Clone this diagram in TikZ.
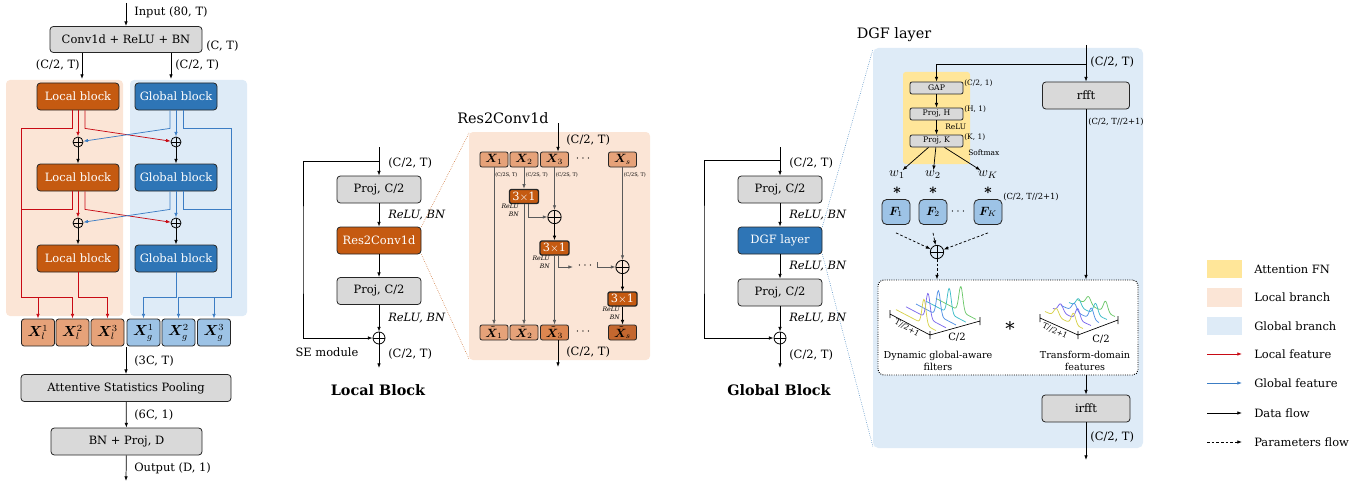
\documentclass[tikz,border=0pt]{standalone}
\usepackage{fontspec}
\setmainfont{DejaVu Serif}
\usepackage{bm}
\usetikzlibrary{arrows.meta,positioning,calc}

\definecolor{locbg}{HTML}{FBE5D6}
\definecolor{globbg}{HTML}{DEEBF7}
\definecolor{attnbg}{HTML}{FFE699}
\definecolor{boxgray}{HTML}{D9D9D9}
\definecolor{locdark}{HTML}{C55A11}
\definecolor{globdark}{HTML}{2E75B6}
\definecolor{loclight}{HTML}{E6A279}
\definecolor{locmid}{HTML}{DC8650}
\definecolor{locdeep}{HTML}{C4672F}
\definecolor{globlight}{HTML}{9DC3E6}
\definecolor{featred}{HTML}{C80A14}
\definecolor{featblue}{HTML}{3C7DC4}
\definecolor{linegray}{HTML}{5A5A5A}
\definecolor{wfa}{HTML}{7B68EE}
\definecolor{wfb}{HTML}{4F8FE6}
\definecolor{wfc}{HTML}{3CBCC8}
\definecolor{wfd}{HTML}{6CC86A}
\definecolor{wfe}{HTML}{D8D24A}

\tikzset{
  wh/.style 2 args={minimum width={#1*0.75pt}, minimum height={#2*0.75pt}},
  box/.style={draw=black!85, line width=0.6pt, rounded corners=2.5pt, inner sep=1pt, font=\fontsize{8.6}{9}\selectfont},
  graybox/.style={box, fill=boxgray},
  locblk/.style={box, fill=locdark, text=white},
  globblk/.style={box, fill=globdark, text=white},
  xbox/.style={box, rounded corners=2pt, wh={33}{27}, inner sep=0pt, font=\fontsize{10.5}{12}\selectfont},
  rxbox/.style={box, rounded corners=1.5pt, wh={28}{15}, inner sep=0pt, font=\fontsize{8.6}{9}\selectfont},
  kbox/.style={box, line width=1pt, rounded corners=1.5pt, fill=locdark, text=white, wh={29}{14}, inner sep=0pt, font=\fontsize{8.5}{9}\selectfont},
  sbox/.style={box, fill=boxgray, wh={53}{12}, inner sep=0pt, rounded corners=1.5pt, font=\fontsize{5.8}{6}\selectfont},
  fbox/.style={box, fill=globlight, rounded corners=3.5pt, wh={28}{25}, inner sep=0pt, font=\fontsize{9}{10}\selectfont},
  sumnode/.style={circle, draw, line width=0.6pt, inner sep=0pt, minimum size=#1,
    path picture={\draw[line width=0.6pt] (path picture bounding box.north) -- (path picture bounding box.south)
      (path picture bounding box.west) -- (path picture bounding box.east);}},
  sumnode/.default=7.5pt,
  arr/.style={-{Latex[length=3.5pt,width=2.6pt]}, line width=0.55pt},
  redarr/.style={arr, featred},
  bluearr/.style={arr, featblue},
  grayarr/.style={arr, linegray},
  dasharr/.style={arr, dash pattern=on 2pt off 1.5pt},
  lbl/.style={anchor=west, inner sep=0pt, font=\fontsize{8.6}{9}\selectfont},
  itlbl/.style={lbl, font=\fontsize{8.6}{9}\selectfont\itshape},
  tiny/.style={lbl, font=\fontsize{5.6}{6}\selectfont},
  title/.style={inner sep=0pt, font=\fontsize{10.8}{12}\selectfont},
  btitle/.style={inner sep=0pt, font=\fontsize{10.8}{12}\selectfont\bfseries},
}

\begin{document}
\begin{tikzpicture}[x=0.75pt, y=-0.75pt]
  \useasboundingbox (0,0) rectangle (1370,485);

  % ---------- backbone ----------
  \fill[locbg, rounded corners=3pt] (6,80) rectangle (123,316);
  \fill[globbg, rounded corners=3pt] (130,80) rectangle (247,316);

  \coordinate (inp) at (126,3);
  \node[graybox, wh={152}{26}] (conv) at (126,39.5) {Conv1d + ReLU + BN};
  \draw[arr] (inp) -- (conv);
  \node[lbl] at (134,12) {Input (80, T)};
  \node[lbl] at (206,46) {(C, T)};
  \coordinate (locin) at (82,79);
  \coordinate (globin) at (171,79);
  \draw[arr] (conv.south -| locin) -- (locin);
  \draw[arr] (conv.south -| globin) -- (globin);
  \node[lbl, anchor=east] at (80,65) {(C/2, T)};
  \node[lbl] at (175,65) {(C/2, T)};

  \foreach \i/\y in {1/96.5, 2/177.5, 3/258.5} {
    \node[locblk, wh={82}{27}] (lb\i) at (78,\y) {Local block};
    \node[globblk, wh={82}{27}] (gb\i) at (176,\y) {Global block};
  }
  \foreach \i/\y in {1/142, 2/223} {
    \node[sumnode] (lp\i) at (78,\y) {};
    \node[sumnode] (gp\i) at (176,\y) {};
  }
  % crossing features
  \foreach \i/\j in {1/2, 2/3} {
    \draw[redarr] (lb\i) -- (lp\i);
    \draw[redarr] ([xshift=5.25pt]lb\i.south) -- ++(0,18) -- (gp\i);
    \draw[bluearr] (gb\i) -- (gp\i);
    \draw[bluearr] ([xshift=-4.5pt]gb\i.south) -- ++(0,18) -- (lp\i);
    \draw[arr] (lp\i) -- (lb\j);
    \draw[arr] (gp\i) -- (gb\j);
  }

  \foreach \n/\x in {1/38, 2/72.5, 3/107.5}
    \node[xbox, fill=loclight] (xl\n) at (\x,332.5) {$\bm X_l^{\n}$};
  \foreach \n/\x in {1/143.5, 2/178.5, 3/214}
    \node[xbox, fill=globlight] (xg\n) at (\x,332.5) {$\bm X_g^{\n}$};

  % outputs of the blocks
  \draw[redarr] ([xshift=-4.5pt]lb1.south) -- ++(0,18) -| (21,297) -| (xl1);
  \draw[redarr] ([xshift=-4.5pt]lb2.south) -- ++(0,18) -| (21,297) -| (xl2);
  \draw[redarr] (lb3) -- (78,297) -| (xl3);
  \draw[bluearr] ([xshift=5.25pt]gb1.south) -- ++(0,18) -| (231,297) -| (xg3);
  \draw[bluearr] ([xshift=5.25pt]gb2.south) -- ++(0,18) -| (231,297) -| (xg2);
  \draw[bluearr] (gb3) -- (176,297) -| (xg1);

  \coordinate (cat) at (126,347);
  \node[graybox, wh={210}{27}] (asp) at (126,388) {Attentive Statistics Pooling};
  \node[graybox, wh={151}{27}] (bnproj) at (126.5,441.5) {BN + Proj, D};
  \coordinate (outp) at (126,481);
  \draw[arr] (cat) -- (asp);
  \draw[arr] (asp) -- (bnproj);
  \draw[arr] (bnproj) -- (outp);
  \node[lbl] at (134,361) {(3C, T)};
  \node[lbl] at (134,415) {(6C, 1)};
  \node[lbl] at (134,468) {Output (D, 1)};

  % ---------- local block ----------
  \coordinate (lbin) at (379,147);
  \coordinate (lskip) at (379,161);
  \node[graybox, wh={84}{27}] (lpj1) at (379,189.5) {Proj, C/2};
  \node[locblk, wh={84}{27}] (res2) at (379,240.5) {Res2Conv1d};
  \node[graybox, wh={84}{27}] (lpj2) at (379,291) {Proj, C/2};
  \node[sumnode=9pt] (lsum) at (379,338) {};
  \coordinate (lbout) at (379,368);
  \draw[arr] (lbin) -- (lpj1);
  \draw[arr] (lpj1) -- (res2);
  \draw[arr] (res2) -- (lpj2);
  \draw[arr] (lpj2) -- (lsum);
  \draw[arr] (lsum) -- (lbout);
  \draw[arr] (lskip) -| (303,250) |- (lsum);
  \node[lbl] at (388,163) {(C/2, T)};
  \node[itlbl] at (388,215) {ReLU, BN};
  \node[itlbl] at (388,318) {ReLU, BN};
  \node[lbl] at (388,354) {(C/2, T)};
  \node[lbl, anchor=center] at (327,352) {SE module};
  \node[btitle] at (378,390) {Local Block};

  % ---------- Res2Conv1d ----------
  \fill[locbg, rounded corners=3pt] (469,132) rectangle (650,360);
  \draw[locdark, densely dotted] (res2.north east) -- (469,133);
  \draw[locdark, densely dotted] (res2.south east) -- (469,359);
  \node[title] at (503,118) {Res2Conv1d};

  \foreach \n/\x in {1/494, 2/524, 3/554.5}
    \node[rxbox, fill=loclight] (rx\n) at (\x,159.5) {$\bm X_{\n}$};
  \node[rxbox, fill=loclight] (rxs) at (622.5,159.5) {$\bm X_{s}$};
  \node[lbl, anchor=center] at (583,159) {$\cdots$};
  \node[rxbox, fill=loclight] (rt1) at (494,332.5) {$\tilde{\bm X}_{1}$};
  \node[rxbox, fill=loclight] (rt2) at (524,332.5) {$\tilde{\bm X}_{2}$};
  \node[rxbox, fill=locmid] (rt3) at (554.5,332.5) {$\tilde{\bm X}_{3}$};
  \node[rxbox, fill=locdeep] (rts) at (622.5,332.5) {$\tilde{\bm X}_{s}$};
  \node[lbl, anchor=center] at (583,332) {$\cdots$};

  \coordinate (rin) at (558,123);
  \draw[arr] (rin) -- (rin |- rx3.north);
  \node[lbl] at (566,140) {(C/2, T)};
  \coordinate (rout) at (558,367);
  \draw[arr] (rt3.south -| rout) -- (rout);
  \node[lbl] at (566,352) {(C/2, T)};

  \foreach \x in {495, 525.5, 555.5, 623.5}
    \node[lbl, font=\fontsize{3.7}{4}\selectfont] at (\x,175) {(C/2S, T)};

  \node[kbox] (k1) at (524,196.5) {3$\times$1};
  \node[sumnode=10pt] (rp1) at (554.5,217) {};
  \node[kbox] (k2) at (554.5,248) {3$\times$1};
  \node[sumnode=10pt] (rp2) at (622.5,267) {};
  \node[kbox] (k3) at (622.5,299) {3$\times$1};
  \coordinate (dl) at (573,267);
  \coordinate (dr) at (597,262);
  \node[lbl, anchor=center] at (585,266) {$\cdots$};

  \draw[grayarr] (rx1) -- (rt1);
  \draw[grayarr] (rx2) -- (k1);
  \draw[grayarr] (k1) -- (rt2);
  \draw[grayarr] ([xshift=3pt]k1.south) |- (rp1);
  \draw[grayarr] (rx3) -- (rp1);
  \draw[arr] (rp1) -- (k2);
  \draw[grayarr] (k2) -- (rt3);
  \draw[grayarr] ([xshift=3pt]k2.south) |- (dl);
  \draw[grayarr] (dr) |- (rp2);
  \draw[grayarr] (rxs) -- (rp2);
  \draw[arr] (rp2) -- (k3);
  \draw[arr] (k3) -- (rts);
  \foreach \x/\y in {519/204, 550/256, 620/307}
    \node[anchor=north east, inner sep=0pt, align=right, font=\fontsize{4.6}{5.6}\selectfont\itshape] at (\x,\y) {ReLU\\BN};

  % ---------- global block ----------
  \coordinate (gbin) at (780,147);
  \coordinate (gskip) at (780,160);
  \node[graybox, wh={84}{27}] (gpj1) at (780,189.5) {Proj, C/2};
  \node[globblk, wh={84}{27}] (dgf) at (780,240.5) {DGF layer};
  \node[graybox, wh={84}{27}] (gpj2) at (780,292.5) {Proj, C/2};
  \node[sumnode=9pt] (gsum) at (780,338) {};
  \coordinate (gbout) at (780,368);
  \draw[arr] (gbin) -- (gpj1);
  \draw[arr] (gpj1) -- (dgf);
  \draw[arr] (dgf) -- (gpj2);
  \draw[arr] (gpj2) -- (gsum);
  \draw[arr] (gsum) -- (gbout);
  \draw[arr] (gskip) -| (704,250) |- (gsum);
  \node[lbl] at (789,163) {(C/2, T)};
  \node[itlbl] at (789,215) {ReLU, BN};
  \node[itlbl] at (789,266) {ReLU, BN};
  \node[itlbl] at (789,318) {ReLU, BN};
  \node[lbl] at (789,355) {(C/2, T)};
  \node[btitle] at (779,390) {Global Block};

  % ---------- DGF layer ----------
  \fill[globbg, rounded corners=4pt] (873,48) rectangle (1143,448);
  \draw[globdark, densely dotted] (dgf.north east) -- (873,49);
  \draw[globdark, densely dotted] (dgf.south east) -- (873,447);
  \node[title] at (894,35) {DGF layer};
  \fill[attnbg, rounded corners=2pt] (903,72) rectangle (970,164);

  \coordinate (din) at (1086,45);
  \coordinate (dsplit) at (1086,64);
  \node[graybox, wh={87}{27}] (rfft) at (1086,95.5) {rfft};
  \draw[arr] (din) -- (rfft);
  \node[sbox] (gap) at (936.5,88) {GAP};
  \node[sbox] (projh) at (936.5,114) {Proj, H};
  \node[sbox] (projk) at (936.5,141) {Proj, K};
  \draw[arr] (dsplit) -| (gap);
  \draw[arr] (gap) -- (projh);
  \draw[arr] (projh) -- (projk);
  \node[lbl] at (1090,62) {(C/2, T)};
  \node[tiny, font=\fontsize{6.3}{7}\selectfont] at (1088,122) {(C/2, T//2+1)};
  \node[tiny] at (964,83) {(C/2, 1)};
  \node[tiny] at (964,109) {(H, 1)};
  \node[tiny] at (964,137) {(K, 1)};
  \node[tiny] at (945,127) {ReLU};
  \node[tiny] at (968,153) {Softmax};

  \node[inner sep=0.5pt, font=\fontsize{10}{11}\selectfont] (w1) at (897,175) {$w_1$};
  \node[inner sep=0.5pt, font=\fontsize{10}{11}\selectfont] (w2) at (933,175) {$w_2$};
  \node[inner sep=0.5pt, font=\fontsize{10}{11}\selectfont] (wk) at (988,175) {$w_K$};
  \draw[arr] ([xshift=-6pt]projk.south) -- (w1);
  \draw[arr] (projk) -- (w2);
  \draw[arr] ([xshift=6pt]projk.south) -- (wk);
  \foreach \x in {897, 933, 988}
    \node[font=\fontsize{10.5}{11}\selectfont\bfseries] at (\x,192) {*};

  \node[fbox] (f1) at (896,212) {$\bm F_{1}$};
  \node[fbox] (f2) at (933,212) {$\bm F_{2}$};
  \node[fbox] (fk) at (988,212) {$\bm F_{K}$};
  \node[lbl, anchor=center] at (958,212) {$\cdots$};
  \node[tiny, font=\fontsize{6.3}{7}\selectfont] at (1003,197) {(C/2, T//2+1)};
  \node[sumnode=10pt] (dsum) at (937,252) {};
  \draw[dasharr] ([yshift=-6pt]f1.south) -- (dsum);
  \draw[dasharr] ([yshift=-6pt]f2.south) -- (dsum);
  \draw[dasharr] ([yshift=-6pt]fk.south) -- (dsum);

  \node[draw, densely dotted, line width=0.7pt, rounded corners=4pt, fill=white, wh={260}{95}] (prod) at (1008,327.5) {};
  \draw[dasharr] (dsum) -- (dsum |- prod.north);
  \draw[arr] (rfft) -- (rfft |- prod.north);
  \node[graybox, wh={88}{27}] (irfft) at (1086,408.5) {irfft};
  \coordinate (dout) at (1086,460);
  \draw[arr] (prod.south -| irfft) -- (irfft);
  \draw[arr] (irfft) -- (dout);
  \node[lbl] at (1090,437) {(C/2, T)};

  % filters (left) and features (right)
  \draw[line width=0.5pt] (890,310) -- (890,318) (890,314) -- (930,335) (930,331) -- (930,339)
    (930,335) -- (980,321) (980,317) -- (980,325);
  \foreach \c/\col/\p in {0.9/wfd/0.62, 0.7/wfc/0.58, 0.5/wfb/0.56, 0.3/wfa/0.55, 0.1/wfe/0.7}
    \draw[\col, line width=0.55pt] plot[domain=0:1, samples=60, smooth]
      ({891+\c*50+\x*40}, {311-\c*14+\x*21-25*exp(-1*(((\x-\p)/0.07)^2))});
  \node[rotate=-28, inner sep=0pt, font=\fontsize{5.8}{6}\selectfont] at (907,328) {T//2+1};
  \node[inner sep=0pt, font=\fontsize{7.5}{8}\selectfont] at (957,337) {C/2};

  \draw[line width=0.5pt] (1040,314) -- (1040,322) (1040,318) -- (1078,335) (1078,331) -- (1078,339)
    (1078,335) -- (1118,320) (1118,316) -- (1118,324);
  \foreach \c/\col/\pa/\pb in {0.9/wfd/0.3/0.75, 0.7/wfc/0.25/0.7, 0.5/wfb/0.35/0.8, 0.3/wfa/0.2/0.65, 0.1/wfe/0.3/0.75}
    \draw[\col, line width=0.55pt] plot[domain=0:1, samples=60, smooth]
      ({1041+\c*40+\x*38}, {313-\c*15+\x*17-8*exp(-1*(((\x-\pa)/0.09)^2))-11*exp(-1*(((\x-\pb)/0.08)^2))});
  \node[rotate=-24, inner sep=0pt, font=\fontsize{5.8}{6}\selectfont] at (1055,331) {T//2+1};
  \node[inner sep=0pt, font=\fontsize{7.5}{8}\selectfont] at (1101,339) {C/2};

  \node[font=\fontsize{14}{14}\selectfont] at (1010,329) {*};
  \node[align=center, inner sep=0pt, font=\fontsize{7.2}{8.4}\selectfont] at (938,361) {Dynamic global-aware\\filters};
  \node[align=center, inner sep=0pt, font=\fontsize{7.2}{8.4}\selectfont] at (1085,361) {Transform-domain\\features};

  % ---------- legend ----------
  \fill[attnbg] (1207,260) rectangle (1242,278);
  \fill[locbg] (1207,288) rectangle (1242,307);
  \fill[globbg] (1207,317) rectangle (1242,335);
  \node[lbl] (legattn) at (1254,269) {Attention FN};
  \node[lbl] (legloc) at (1254,297.5) {Local branch};
  \node[lbl] (legglob) at (1254,326) {Global branch};
  \foreach \i/\y/\sty/\txt in {1/354/redarr/Local feature, 2/383/bluearr/Global feature,
      3/413/arr/Data flow, 4/442/dasharr/Parameters flow} {
    \coordinate (lega\i) at (1207,\y);
    \coordinate (legb\i) at (1242,\y);
    \draw[\sty] (lega\i) -- (legb\i);
    \node[lbl] (legt\i) at (1254,\y) {\txt};
  }
\end{tikzpicture}
\end{document}
